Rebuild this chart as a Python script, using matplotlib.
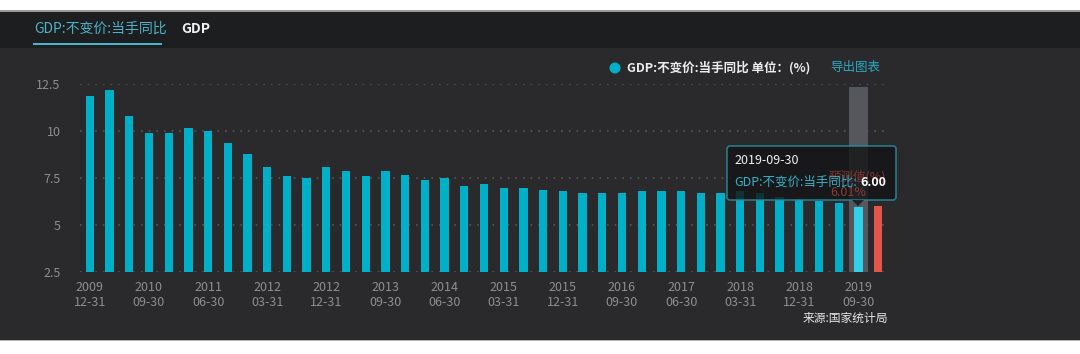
import matplotlib

matplotlib.use("Agg")
import matplotlib.pyplot as plt
from matplotlib.patches import Circle, FancyBboxPatch, Polygon, Rectangle
import pandas as pd

plt.rcParams["font.family"] = ["Noto Sans CJK SC", "DejaVu Sans"]

# quarterly GDP growth, constant prices, same quarter y/y (%)
QUARTER_ENDS = pd.date_range("2009-12-31", periods=40, freq="QE").strftime("%Y-%m-%d").tolist()
GDP_YOY = [
    11.9, 12.2, 10.8, 9.9, 9.9, 10.2, 10.0, 9.4, 8.8, 8.1,
    7.6, 7.5, 8.1, 7.9, 7.6, 7.9, 7.7, 7.4, 7.5, 7.1,
    7.2, 7.0, 7.0, 6.9, 6.8, 6.7, 6.7, 6.7, 6.8, 6.8,
    6.8, 6.7, 6.7, 6.8, 6.7, 6.5, 6.4, 6.3, 6.2, 6.0,
]
FORECAST = 6.01
HIGHLIGHT = "2019-09-30"
Y_TICKS = [2.5, 5, 7.5, 10, 12.5]
Y_LABELS = ["2.5", "5", "7.5", "10", "12.5"]

W, H = 1080, 354
BG_HEADER = "#1d1e20"
BG_PANEL = "#2a2a2c"
TEAL = "#00b0c9"
TEAL_HI = "#2fd2ea"
RED = "#e2574c"
LABEL = "#8e8e90"

fig = plt.figure(figsize=(W / 100, H / 100), dpi=100, facecolor="white")

# full-figure underlay in pixel coords (y down)
under = fig.add_axes([0, 0, 1, 1], zorder=0)
under.set_xlim(0, W)
under.set_ylim(H, 0)
under.axis("off")
under.add_patch(Rectangle((0, 11), W, 37, color=BG_HEADER, lw=0))
under.add_patch(Rectangle((0, 48), W, 292, color=BG_PANEL, lw=0))
under.add_patch(Rectangle((0, 10.3), W, 1.2, color="#9a9a9a", lw=0))
under.add_patch(Rectangle((0, 340), W, 1.2, color="#b4b4b4", lw=0))

# tabs
under.text(34, 29, "GDP:不变价:当手同比", color="#4cb4c9", fontsize=10, va="center", ha="left")
under.add_patch(Rectangle((33, 42.5), 129, 2, color="#4cb4c9", lw=0))
under.text(181, 29, "GDP", color="#f0f0f0", fontsize=10, va="center", ha="left", fontweight="bold")

# legend + export link
under.add_patch(Circle((615, 68), 5.5, color=TEAL, lw=0))
under.text(627, 68, "GDP:不变价:当手同比 单位：(%)", color="#ececec", fontsize=9, fontweight="bold",
           va="center", ha="left")
under.text(830, 68, "导出图表", color="#2aa8c2", fontsize=9, va="center", ha="left")
under.text(888, 318, "来源:国家统计局", color="#e6e6e6", fontsize=8.5, va="center", ha="right")

ax = fig.add_axes([80 / W, 1 - 272.3 / H, 808 / W, 188 / H], zorder=2)
ax.set_facecolor("none")
for spine in ax.spines.values():
    spine.set_visible(False)

n = len(GDP_YOY)
hi = QUARTER_ENDS.index(HIGHLIGHT)
colors = [TEAL_HI if i == hi else TEAL for i in range(n)]
ax.axvspan(hi - 0.5, hi + 0.5, ymin=0, ymax=0.987, color="#55575c", zorder=1, lw=0)
ax.bar(range(n), [v - 2.5 for v in GDP_YOY], bottom=2.5, width=0.42, color=colors, zorder=2)
ax.bar([n], [FORECAST - 2.5], bottom=2.5, width=0.42, color=RED, zorder=2)

ax.set_xlim(-0.5, n + 0.5)
ax.set_ylim(2.5, 12.5)
ax.set_yticks(Y_TICKS)
ax.set_yticklabels(Y_LABELS)
tick_idx = list(range(0, n, 3))
ax.set_xticks(tick_idx)
ax.set_xticklabels([QUARTER_ENDS[i][:4] + "\n" + QUARTER_ENDS[i][5:] for i in tick_idx], linespacing=1.25)
ax.tick_params(axis="both", length=0, colors=LABEL, labelsize=9)
ax.tick_params(axis="y", pad=14)
ax.tick_params(axis="x", pad=6)
ax.grid(axis="y", color="#5c5c5e", linestyle=(0, (1, 4)), linewidth=1.1, zorder=0)
ax.set_axisbelow(True)

# tooltip
over = fig.add_axes([0, 0, 1, 1], zorder=5)
over.set_xlim(0, W)
over.set_ylim(H, 0)
over.axis("off")
over.add_patch(FancyBboxPatch((727, 146), 169, 54, boxstyle="round,pad=0,rounding_size=3",
                              facecolor="#141516", edgecolor="#2a8d9e", linewidth=1.2, alpha=0.82))
over.add_patch(Polygon([(852, 200), (864, 200), (858, 206)], closed=True, facecolor="#141516",
                       edgecolor="none", alpha=0.82))

# forecast label, showing dimmed through the tooltip
over.text(857, 177, "预测值(%)", color="#7e3530", fontsize=9, ha="center", va="center")
over.text(848, 192, f"{FORECAST:.2f}%", color="#8f3a33", fontsize=9, ha="center", va="center")

val = GDP_YOY[hi]
over.text(734, 161, HIGHLIGHT, color="#f0f0f0", fontsize=9, va="center", ha="left")
over.text(734, 182, "GDP:不变价:当手同比:", color="#34b1c9", fontsize=9, va="center", ha="left")
over.text(860, 182, f"{val:.2f}", color="#ffffff", fontsize=9, fontweight="bold", va="center", ha="left")

fig.savefig("out.png", dpi=100, facecolor="white")
